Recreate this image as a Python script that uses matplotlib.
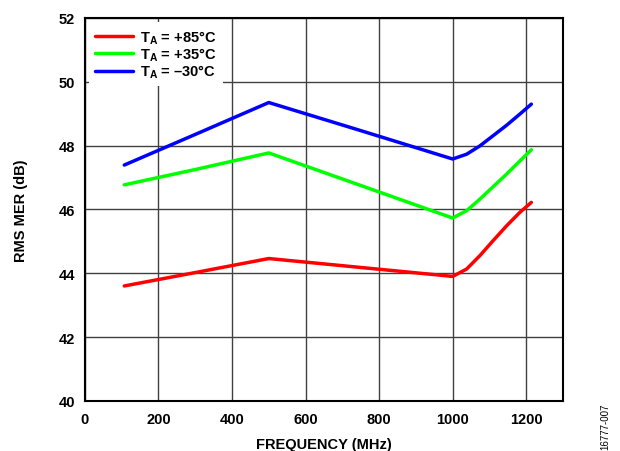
import matplotlib
matplotlib.use("Agg")
import matplotlib.pyplot as plt

plt.rcParams['font.family'] = ['Liberation Sans', 'DejaVu Sans']
plt.rcParams['font.weight'] = 'bold'
plt.rcParams['mathtext.fontset'] = 'custom'
plt.rcParams['mathtext.rm'] = 'Liberation Sans:bold'
plt.rcParams['mathtext.bf'] = 'Liberation Sans:bold'
plt.rcParams['mathtext.it'] = 'Liberation Sans:bold'

# frequency points (MHz)
freq = [107, 300, 500, 750, 1000, 1038, 1074, 1110, 1147, 1183, 1214]

# RMS MER (dB) for each temperature
mer_85 = [43.60, 44.02, 44.46, 44.18, 43.90, 44.13, 44.55, 45.02, 45.49, 45.91, 46.22]
mer_35 = [46.77, 47.25, 47.77, 46.75, 45.73, 45.96, 46.32, 46.71, 47.11, 47.52, 47.87]
mer_m30 = [47.39, 48.35, 49.35, 48.47, 47.58, 47.73, 47.99, 48.31, 48.64, 48.99, 49.30]

labels = [r'$\mathrm{T_A}$ = +85°C', r'$\mathrm{T_A}$ = +35°C', r'$\mathrm{T_A}$ = –30°C']
colors = ['#ff0000', '#00ff00', '#0000ff']

fig = plt.figure(figsize=(6.2, 4.52), dpi=100)
ax = fig.add_axes([0.137, 0.111, 0.771, 0.847])

for y, lab, c in zip([mer_85, mer_35, mer_m30], labels, colors):
    ax.plot(freq, y, color=c, linewidth=2.5, label=lab, solid_capstyle='round')

ax.set_xlim(0, 1300)
ax.set_ylim(40, 52)
ax.set_xticks(range(0, 1201, 200))
ax.set_yticks(range(40, 53, 2))
ax.grid(True, color='#404040', linewidth=1.0)
ax.set_axisbelow(True)
ax.tick_params(axis='x', length=0, labelsize=10.5, pad=8)
ax.tick_params(axis='y', length=0, labelsize=10.5, pad=7)
for s in ax.spines.values():
    s.set_linewidth(1.5)
    s.set_color('black')

ax.set_xlabel('FREQUENCY (MHz)', fontsize=10.5, fontweight='bold', labelpad=8)
ax.set_ylabel('RMS MER (dB)', fontsize=10.5, fontweight='bold', labelpad=22)

leg = ax.legend(loc='upper left', fontsize=10.5, frameon=True, fancybox=False,
                edgecolor='none', facecolor='white', framealpha=1,
                handlelength=2.6, handletextpad=0.5, labelspacing=0.0,
                borderaxespad=0.3, borderpad=0.4)

fig.text(0.976, 0.055, '16777-007', rotation=90, fontsize=7, fontweight='normal',
         ha='center', va='center')

fig.savefig('out.png', dpi=100)
